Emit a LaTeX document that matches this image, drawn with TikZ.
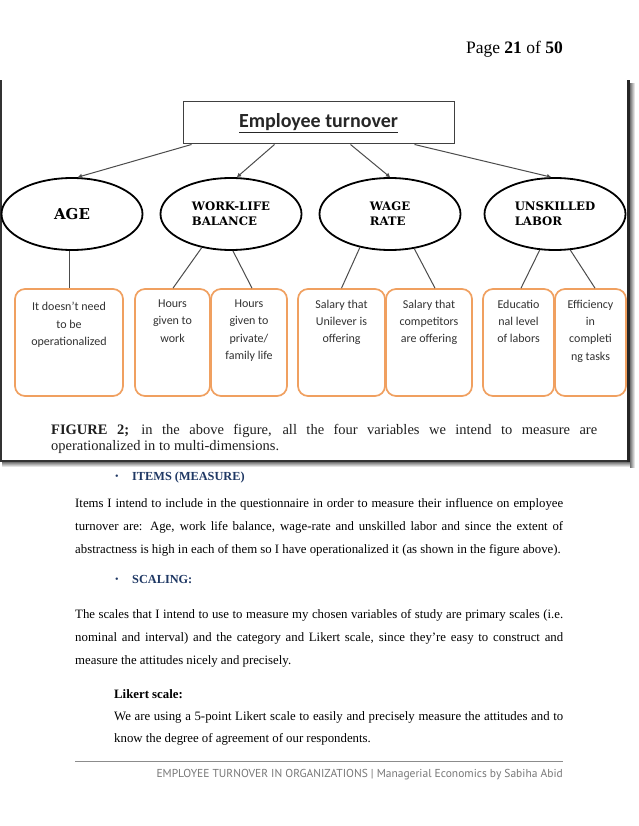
\documentclass[tikz,border=0pt]{standalone}
\usepackage{fontspec}
\setmainfont{Liberation Serif}
\newfontfamily\carl{Carlito}
\newfontfamily\dejaserif{DejaVu Serif}
\newfontfamily\footfont{PT Sans}
\usetikzlibrary{shapes.geometric,arrows.meta}
\definecolor{orng}{RGB}{240,160,96}
\definecolor{hblue}{RGB}{31,56,100}
\definecolor{boxtxt}{RGB}{50,50,50}
\definecolor{foot}{RGB}{120,120,120}
\tikzset{
  varell/.style={ellipse, draw, line width=1.8pt, minimum width=141pt, minimum height=72pt, inner sep=0pt, align=left, font=\dejaserif\bfseries\fontsize{11.7}{15}\selectfont},
  opbox/.style={draw=orng, line width=1.7pt, rounded corners=10pt, minimum height=107pt, inner sep=0pt},
  optxt/.style={anchor=north, inner sep=0pt, align=center, text=boxtxt, font=\carl\fontsize{12}{17.3}\selectfont},
  conn/.style={draw=black!70, line width=1pt},
  arr/.style={conn, -{Triangle[length=4pt,width=4pt]}},
  bodyline/.style={anchor=base west, inner sep=0pt, font=\fontsize{12.8}{14}\selectfont},
  headline/.style={anchor=base west, inner sep=0pt, text=hblue, font=\bfseries\fontsize{12.3}{14}\selectfont},
  bulletmark/.style={anchor=base west, inner sep=0pt, text=hblue, font=\fontsize{10}{12}\selectfont},
  capline/.style={anchor=base west, inner sep=0pt, text=black!88, font=\fontsize{14.5}{16}\selectfont}
}
\begin{document}
\begin{tikzpicture}[x=1pt,y=-1pt]
\useasboundingbox (0,0) rectangle (638,826);
\fill[white] (0,0) rectangle (638,826);

% page header
\node[anchor=base east, inner sep=0pt, font=\fontsize{17.5}{20}\selectfont] (pg) at (563,54) {Page \textbf{21} of \textbf{50}};

% figure frame with shadow
\shade[top color=black!55, bottom color=white] (2,462) rectangle (634,467);
\shade[left color=black!55, right color=white] (630,84) rectangle (635,467);
\fill[black!80] (0,80) rectangle (2,462);
\fill[black!80] (0,459.5) rectangle (630,462);
\fill[black!85] (627,80) rectangle (630,462);

% top box
\node[draw=black!75, line width=1pt, minimum width=271pt, minimum height=42pt, inner sep=0pt, font=\carl\bfseries\fontsize{20}{24}\selectfont, text=black!85] (top) at (318.5,123) {\underline{Employee turnover}};

% ellipses
\node[varell, font=\dejaserif\bfseries\fontsize{15}{18}\selectfont] (age) at (72,214) {AGE};
\node[varell] (wlb) at (231,214) {WORK-LIFE\\BALANCE};
\node[varell] (wage) at (390,214) {WAGE\\RATE};
\node[varell] (uns) at (555,214) {UNSKILLED\\LABOR};

% orange boxes
\node[opbox, minimum width=108pt] (b1) at (69,342.5) {};
\node[opbox, minimum width=75pt] (b2) at (172.5,342.5) {};
\node[opbox, minimum width=76pt] (b3) at (249,342.5) {};
\node[opbox, minimum width=87pt] (b4) at (341.5,342.5) {};
\node[opbox, minimum width=86pt] (b5) at (429,342.5) {};
\node[opbox, minimum width=71pt] (b6) at (518.5,342.5) {};
\node[opbox, minimum width=71pt] (b7) at (590.5,342.5) {};

\node[optxt] (t1) at ([yshift=-14pt]b1.north) {It doesn’t need\\to be\\operationalized};
\node[optxt] (t2) at ([yshift=-11.5pt]b2.north) {Hours\\given to\\work};
\node[optxt] (t3) at ([yshift=-11.5pt]b3.north) {Hours\\given to\\private/\\family life};
\node[optxt] (t4) at ([yshift=-11.5pt]b4.north) {Salary that\\Unilever is\\offering};
\node[optxt] (t5) at ([yshift=-11.5pt]b5.north) {Salary that\\competitors\\are offering};
\node[optxt] (t6) at ([yshift=-11.5pt]b6.north) {Educatio\\nal level\\of labors};
\node[optxt] (t7) at ([yshift=-11.5pt]b7.north) {Efficiency\\in\\completi\\ng tasks};

% connectors
\draw[arr] ([xshift=9pt]top.south west) -- ([xshift=6pt]age.north);
\draw[arr] ([xshift=92pt]top.south west) -- ([xshift=6pt]wlb.north);
\draw[arr] ([xshift=168pt]top.south west) -- (wage.north);
\draw[arr] ([xshift=232pt]top.south west) -- ([xshift=-4pt]uns.north);

\draw[conn] (age.south -| b1.north) -- (b1.north);
\draw[conn] (wlb.229) -- ([xshift=0.5pt]b2.north);
\draw[conn] (wlb.273) -- ([xshift=3pt]b3.north);
\draw[conn] (wage.228) -- (b4.north);
\draw[conn] (wage.305) -- ([xshift=6pt]b5.north);
\draw[conn] (uns.247) -- ([xshift=2.5pt]b6.north);
\draw[conn] (uns.293) -- ([xshift=4.5pt]b7.north);

% caption
\node[capline] (cap1) at (51,434.5) {\makebox[546pt][s]{\textbf{FIGURE 2;} in the above figure, all the four variables we intend to measure are}};
\node[capline] (cap2) at (51,450.5) {operationalized in to multi-dimensions.};

% ITEMS section
\node[bulletmark] (bu1) at (115,479) {•};
\node[headline] (h1) at (132,480) {ITEMS (MEASURE)};
\node[bodyline] (p1) at (75,507) {\makebox[488pt][s]{Items I intend to include in the questionnaire in order to measure their influence on employee}};
\node[bodyline] (p2) at (75,530) {\makebox[488pt][s]{turnover are: Age, work life balance, wage-rate and unskilled labor and since the extent of}};
\node[bodyline] (p3) at (75,553) {abstractness is high in each of them so I have operationalized it (as shown in the figure above).};

% SCALING section
\node[bulletmark] (bu2) at (115,582) {•};
\node[headline] (h2) at (132,583) {SCALING:};
\node[bodyline] (p4) at (75,618) {\makebox[488pt][s]{The scales that I intend to use to measure my chosen variables of study are primary scales (i.e.}};
\node[bodyline] (p5) at (75,641) {\makebox[488pt][s]{nominal and interval) and the category and Likert scale, since they’re easy to construct and}};
\node[bodyline] (p6) at (75,664) {measure the attitudes nicely and precisely.};

% Likert
\node[bodyline, font=\bfseries\fontsize{12.8}{14}\selectfont] (lk) at (114,698) {Likert scale:};
\node[bodyline] (p7) at (114,720) {\makebox[449pt][s]{We are using a 5-point Likert scale to easily and precisely measure the attitudes and to}};
\node[bodyline] (p8) at (114,742) {know the degree of agreement of our respondents.};

% footer
\draw[draw=black!45, line width=0.6pt] (75,761.5) -- (563,761.5);
\node[anchor=base east, inner sep=0pt, text=foot, font=\footfont\fontsize{11.5}{13}\selectfont] (ft) at (563,777) {EMPLOYEE TURNOVER IN ORGANIZATIONS | Managerial Economics by Sabiha Abid};
\end{tikzpicture}
\end{document}
